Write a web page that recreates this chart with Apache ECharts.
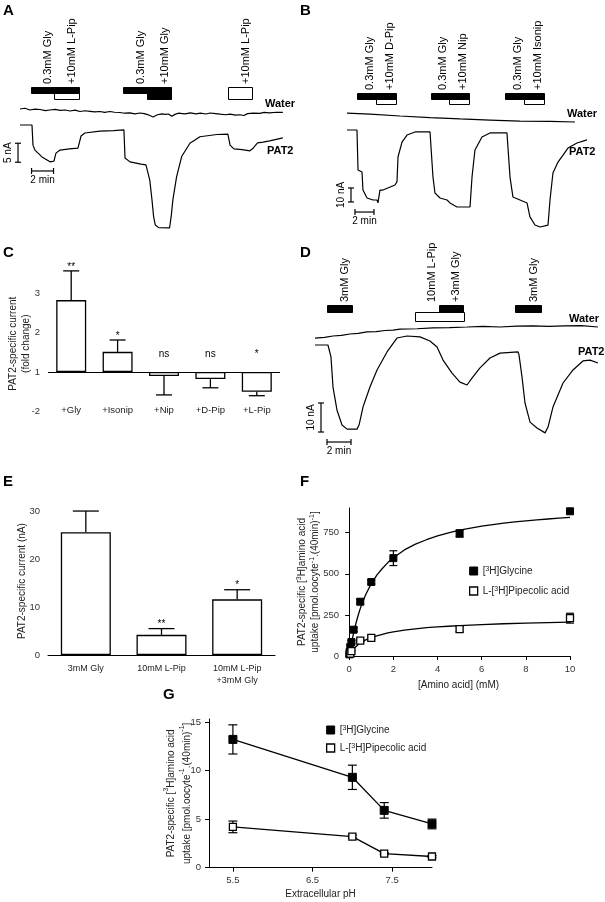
<!DOCTYPE html>
<html><head><meta charset="utf-8">
<script src="https://cdn.jsdelivr.net/npm/echarts@6/dist/echarts.min.js"></script>
<style>html,body{margin:0;padding:0;background:#fff}#c{width:605px;height:902px}</style>
</head><body><div id="c"></div><script>
const FONT = "'Liberation Sans', Arial, Helvetica, sans-serif";

// ---------- Panel A (time in min, current in nA) ----------
const waterA = [[0,4.21],[0.45,4.4],[0.91,3.95],[1.35,4.2],[1.82,4.08],[2.3,3.8],[2.73,3.95],[3.2,4.1],[3.64,3.85],[4.1,3.95],[4.55,3.68],[5.0,3.9],[5.45,3.55],[5.9,3.75],[6.36,3.6],[6.8,3.45],[7.27,3.55],[7.7,3.3],[8.18,3.55],[8.6,3.35],[9.09,3.29],[9.5,3.1],[10,3.2],[10.45,2.95],[10.9,3.16],[11.3,3.0],[11.6,2.75],[12.1,2.1],[12.5,2.7],[12.9,2.95],[13.2,2.8],[13.5,2.9],[13.8,2.3],[14.1,2.8],[14.4,3.1],[15.0,2.95],[15.5,3.2],[16.0,2.95],[16.4,3.1],[16.9,2.9],[17.3,3.16],[17.8,3.0],[18.2,2.85],[18.7,2.7],[19.1,2.85],[19.6,2.6],[20,2.7],[20.35,2.5],[20.7,3.0],[21.2,3.1],[21.8,3.05],[22.2,3.3],[22.7,3.2],[23.3,3.35],[23.9,3.3]];
const pat2A = [[0,0],[1.09,0],[1.18,-5.3],[1.36,-6.6],[2.0,-8.4],[2.73,-9.7],[3.09,-9.5],[3.27,-7.4],[3.64,-6.6],[4.5,-6.3],[5.27,-6.1],[5.55,-2.9],[5.9,-2.1],[7.27,-1.6],[8.5,-1.5],[9.45,-1.3],[9.55,-8.7],[10,-9.7],[11.0,-10.3],[11.45,-10.5],[11.8,-14.5],[12.0,-19.7],[12.15,-24.1],[12.3,-26.3],[12.6,-27.0],[13.6,-27.1],[13.75,-24],[13.9,-19.7],[14.24,-13.6],[14.7,-8.3],[15.45,-4.8],[16.36,-3.1],[17.9,-2.5],[18.9,-2.4],[19.1,-5.3],[19.45,-6.3],[20.2,-6.5],[20.9,-6.8],[21.2,-6.1],[21.6,-4.7],[22.1,-4.5],[22.7,-4.2],[23.3,-3.8],[23.9,-3.4]];
const stimA = [
  [1.0, 5.36, 0, 1, '0.3mM Gly'],
  [3.09, 5.36, 1, 0, '+10mM L-Pip'],
  [9.36, 13.73, 0, 1, '0.3mM Gly'],
  [11.55, 13.73, 1, 1, '+10mM Gly'],
  [18.9, 21.1, 2, 0, '+10mM L-Pip']
];

// ---------- Panel B ----------
const waterB = [[0,12.1],[2.42,11.4],[5.58,10],[8.74,8.9],[11.9,7.9],[15.05,7.1],[18.2,6.4],[21.4,6.1],[24,5.7]];
const pat2B = [[0,0],[1.05,0],[1.16,-28.6],[1.58,-30],[1.68,-42.9],[2.11,-48.6],[2.74,-50],[3.16,-50],[3.26,-52.1],[3.47,-42.9],[3.79,-42.9],[5.05,-39.3],[5.26,-37.1],[5.37,-19.3],[5.79,-8.6],[6.32,-3.6],[7.16,-1.4],[8.74,-1.4],[9.05,-33.6],[9.26,-45],[9.79,-48.6],[10.53,-50],[10.84,-52.1],[11.58,-55],[12.95,-55],[13.16,-33.6],[13.47,-14.3],[14.21,-5],[15.05,-2.1],[16.84,-2.1],[17.16,-33.6],[17.47,-47.9],[18.21,-50],[18.95,-52.1],[19.26,-62.1],[19.79,-67.9],[20.32,-69.3],[21.16,-67.9],[21.37,-50],[21.68,-30.7],[22.21,-22.9],[22.74,-17.9],[23.26,-12.9],[24.21,-9.3],[25.26,-7.1]];
const stimB = [
  [1.05, 5.16, 0, 1, '0.3mM Gly'],
  [3.05, 5.16, 1, 0, '+10mM D-Pip'],
  [8.84, 12.84, 0, 1, '0.3mM Gly'],
  [10.74, 12.84, 1, 0, '+10mM Nip'],
  [16.63, 20.74, 0, 1, '0.3mM Gly'],
  [18.63, 20.74, 1, 0, '+10mM Isonip']
];

// ---------- Panel C ----------
const catC = ['+Gly', '+Isonip', '+Nip', '+D-Pip', '+L-Pip'];
const foldC = [2.82, 1.51, -1.1, -1.18, -1.5];
const errC = [0.74, 0.3, 0.48, 0.22, 0.1];
const sigC = ['**', '*', 'ns', 'ns', '*'];
const ticksC = [-2, 1, 2, 3];

// ---------- Panel D ----------
const waterD = [[0,2.4],[0.8,2.6],[1.5,3.1],[2.2,3.3],[2.92,3.8],[3.6,4.0],[4.33,4.5],[5.1,4.6],[5.83,5.0],[6.5,5.1],[7.08,5.5],[8.5,5.6],[9.83,5.9],[11.2,6.0],[12.67,6.2],[14.0,6.4],[15.42,6.2],[16.8,6.5],[18.17,6.6],[19.5,6.4],[20.8,6.6],[22.2,6.7],[23.58,6.2]];
const pat2D = [[0,0],[1.08,0],[1.33,-4.1],[1.5,-14.5],[1.83,-22.4],[2.25,-27.6],[2.67,-29],[3.5,-29],[3.67,-27.6],[4,-21.4],[4.58,-14.5],[5.17,-8.6],[6,-2.4],[6.83,2.4],[7.67,3.1],[8.75,2.8],[9.58,1.4],[10.17,-0.7],[10.67,-5.2],[11.42,-9.7],[12.08,-12.8],[12.67,-13.8],[13.08,-11.4],[13.75,-7.9],[14.58,-4.5],[15.42,-2.8],[16.92,-2.4],[17,-3.4],[17.25,-11],[17.5,-20],[17.92,-26.6],[18.5,-28.6],[19.17,-30.3],[19.42,-28.3],[19.83,-21.4],[20.67,-13.1],[21.5,-8.6],[22.33,-5.5],[22.92,-5.2],[23.58,-6.2]];
const stimD = [
  [1.0, 3.08, 0, 1, '3mM Gly'],
  [8.33, 12.42, 1, 0, '10mM L-Pip'],
  [10.33, 12.33, 0, 1, '+3mM Gly'],
  [16.67, 18.83, 0, 1, '3mM Gly']
];

// ---------- Panel E ----------
const catE = ['3mM Gly', '10mM L-Pip', '10mM L-Pip\n+3mM Gly'];
const valE = [25.6, 4.2, 11.6];
const errE = [4.4, 1.3, 2.0];
const sigE = ['', '**', '*'];

// ---------- Panel F: [mM, uptake, sem] ----------
const glyF = [[0.01,10,5],[0.02,25,8],[0.05,55,10],[0.1,85,10],[0.2,160,12],[0.5,330,15],[1,450,12],[2,595,45],[5,745,22],[10,880,10]];
const pipF = [[0.05,15,5],[0.1,30,5],[0.5,93,8],[1,110,8],[5,163,15],[10,230,30]];
const glyFit = [[0,0],[0.05,40],[0.1,78],[0.2,140],[0.3,196],[0.4,245],[0.5,288],[0.6,325],[0.75,374],[1,440],[1.25,492],[1.5,532],[1.75,568],[2,598],[2.5,645],[3,680],[3.5,707],[4,730],[4.5,749],[5,765],[5.5,778],[6,790],[6.5,799],[7,808],[7.5,815],[8,822],[8.5,828],[9,833],[9.5,838],[10,843]];
const pipFit = [[0,0],[0.1,22],[0.25,50],[0.5,80],[0.75,98],[1,112],[1.25,123],[1.5,132],[1.75,140],[2,147],[2.5,157],[3,165],[3.5,172],[4,177],[4.5,181],[5,185],[6,191],[7,196],[8,200],[9,203],[10,206]];

// ---------- Panel G: [pH, uptake, sem] ----------
const glyG = [[5.5,13.2,1.5],[7.0,9.3,1.25],[7.4,5.9,0.8],[8.0,4.5,0.5]];
const pipG = [[5.5,4.2,0.6],[7.0,3.2,0.15],[7.4,1.45,0.1],[8.0,1.15,0.1]];

const GLY = '[3H]Glycine', PIP = 'L-[3H]Pipecolic acid';

// ---------- helpers ----------
function line(x1, y1, x2, y2, w) {
  return {type:'line', shape:{x1, y1, x2, y2}, style:{stroke:'#000', lineWidth:w || 1.2}};
}
function stimSeries(idx, stim, rowH) {
  return {
    type:'custom', xAxisIndex:idx, yAxisIndex:idx, silent:true, z:5,
    data: stim.map(s => [s[0], s[1]]), encode:{x:[0,1]},
    renderItem: (params, api) => {
      const i = params.dataIndex, s = stim[i], cs = params.coordSys;
      const x0 = api.coord([s[0], 0])[0], x1 = api.coord([s[1], 0])[0];
      let y = cs.y, h = rowH[0];
      if (s[2] === 1) { y = cs.y + rowH[0]; h = rowH[1]; }
      if (s[2] === 2) { h = rowH[0] + rowH[1]; }
      const nx = stim[i + 1];
      const anchorT = (nx && nx[0] > s[0] && nx[0] < s[1]) ? nx[0] : s[1];
      const ax = api.coord([anchorT, 0])[0] - 1;
      return {type:'group', children:[
        {type:'rect', shape:{x:Math.round(x0)+0.5, y:Math.round(y)+0.5, width:Math.round(x1-x0), height:h},
         style:{fill: s[3] ? '#000' : '#fff', stroke:'#000', lineWidth:1}},
        {type:'text', x:ax, y:cs.y - 3, rotation:Math.PI/2,
         style:{text:s[4], fill:'#000', fontSize:11, fontFamily:FONT, align:'left', verticalAlign:'bottom'}}
      ]};
    }
  };
}
function scaleSeries(idx, sc) {
  return {
    type:'custom', xAxisIndex:idx, yAxisIndex:idx, silent:true,
    data:[[sc.tV, sc.iLo]],
    renderItem: (params, api) => {
      const a = api.coord([sc.tV, sc.iLo]), b = api.coord([sc.tV, sc.iHi]);
      const c = api.coord([sc.tLo, sc.iH]), d = api.coord([sc.tHi, sc.iH]);
      return {type:'group', children:[
        line(a[0], a[1], b[0], b[1]), line(a[0]-3, a[1], a[0]+3, a[1]), line(b[0]-3, b[1], b[0]+3, b[1]),
        line(c[0], c[1], d[0], d[1]), line(c[0], c[1]-3, c[0], c[1]+3), line(d[0], d[1]-3, d[0], d[1]+3),
        {type:'text', x:a[0]-5, y:(a[1]+b[1])/2, rotation:Math.PI/2,
         style:{text:sc.vLabel, fill:'#000', fontSize:10, fontFamily:FONT, align:'center', verticalAlign:'bottom'}},
        {type:'text', x:(c[0]+d[0])/2, y:c[1]+4,
         style:{text:sc.hLabel, fill:'#000', fontSize:10, fontFamily:FONT, align:'center', verticalAlign:'top'}}
      ]};
    }
  };
}
function traceLine(idx, data) {
  return {type:'line', xAxisIndex:idx, yAxisIndex:idx, data, symbol:'none', silent:true,
    lineStyle:{color:'#000', width:1.2}, animation:false};
}
function errCat(idx, data, sig, cap, negSig) {
  return {
    type:'custom', xAxisIndex:idx, yAxisIndex:idx, silent:true, z:4,
    data, encode:{x:0, y:[1,2]},
    renderItem: (params, api) => {
      const i = params.dataIndex, base = api.value(1), tip = api.value(2);
      const pb = api.coord([i, base]), pt = api.coord([i, tip]), p0 = api.coord([i, 0]);
      const ch = [line(pb[0], pb[1], pt[0], pt[1], 1.3), line(pt[0]-cap/2, pt[1], pt[0]+cap/2, pt[1], 1.3)];
      if (sig[i]) {
        const up = tip >= base;
        const ty = up ? pt[1] + 1 : p0[1] - negSig;
        ch.push({type:'text', x:pt[0], y:ty,
          style:{text:sig[i], fill:'#000', fontSize:10, fontFamily:FONT, align:'center', verticalAlign:'bottom'}});
      }
      return {type:'group', children:ch};
    }
  };
}
function errXY(idx, data, cap) {
  return {
    type:'custom', xAxisIndex:idx, yAxisIndex:idx, silent:true, z:2,
    data: data.map(d => [d[0], d[1]-d[2], d[1]+d[2]]), encode:{x:0, y:[1,2]},
    renderItem: (params, api) => {
      const a = api.coord([api.value(0), api.value(1)]), b = api.coord([api.value(0), api.value(2)]);
      return {type:'group', children:[line(a[0], a[1], b[0], b[1], 1.2),
        line(a[0]-cap/2, a[1], a[0]+cap/2, a[1], 1.2), line(b[0]-cap/2, b[1], b[0]+cap/2, b[1], 1.2)]};
    }
  };
}
const fillSq = {color:'#000', borderColor:'#000', borderWidth:1, opacity:1};
const openSq = {color:'#fff', borderColor:'#000', borderWidth:1.3, opacity:1};

const axLine = {lineStyle:{color:'#000', width:1}};
const axTick = (cv) => ({length:4, lineStyle:{color:'#000', width:1}, customValues:cv});
const axLab = (cv, extra) => Object.assign({color:'#333', fontSize:9.5, fontFamily:FONT, customValues:cv}, extra || {});
const nameStyle = (lh) => ({color:'#222', fontSize:10, fontFamily:FONT, lineHeight:lh,
  rich:{s:{fontSize:7, fontFamily:FONT, color:'#222', verticalAlign:'top', lineHeight:lh}}});
const hidden = (i, min, max) => ({type:'value', gridIndex:i, min, max, show:false});

const toPos = f => f >= 1 ? f - 1 : f + 1;
const posC = foldC.map(toPos);
const errDataC = posC.map((p, i) => [i, p, p >= 0 ? p + errC[i] : p - errC[i]]);
const errDataE = valE.map((v, i) => [i, v, v + errE[i]]);
const tickPosC = ticksC.map(toPos);

const uptakeName = 'PAT2-specific [{s|3}H]amino acid\nuptake [pmol.oocyte{s|-1}.(40min){s|-1}]';

const option = {
  animation:false,
  backgroundColor:'#fff',
  textStyle:{fontFamily:FONT},
  grid:[
    {left:20, top:87, width:270, height:145},
    {left:347, top:93, width:243, height:139},
    {left:48, top:268, width:232, height:151.4},
    {left:315, top:305, width:285, height:140},
    {left:48, top:507.2, width:227, height:147.8},
    {left:347, top:508, width:223, height:148},
    {left:209, top:719, width:223, height:148.7}
  ],
  xAxis:[
    hidden(0, 0, 24.55),
    hidden(1, 0, 25.58),
    {type:'category', gridIndex:2, data:catC, axisLine:{show:false, onZero:false}, axisTick:{show:false},
     axisLabel:{color:'#222', fontSize:9.5, fontFamily:FONT, margin:-14, interval:0}},
    hidden(3, 0, 23.75),
    {type:'category', gridIndex:4, data:catE, axisLine:axLine, axisTick:{show:false},
     axisLabel:{color:'#222', fontSize:9, fontFamily:FONT, margin:8, lineHeight:12, interval:0}},
    {type:'value', gridIndex:5, min:-0.1, max:10, axisLine:axLine, axisTick:axTick([0,2,4,6,8,10]),
     axisLabel:axLab([0,2,4,6,8,10]), splitLine:{show:false},
     name:'[Amino acid] (mM)', nameLocation:'middle', nameGap:23, nameMoveOverlap:false, nameTextStyle:nameStyle(13)},
    {type:'value', gridIndex:6, min:5.2, max:8.0, axisLine:axLine, axisTick:axTick([5.5,6.5,7.5]),
     axisLabel:axLab([5.5,6.5,7.5], {formatter:v => v.toFixed(1)}), splitLine:{show:false},
     name:'Extracellular pH', nameLocation:'middle', nameGap:20, nameMoveOverlap:false, nameTextStyle:nameStyle(13)}
  ],
  yAxis:[
    hidden(0, -28.16, 10),
    hidden(1, -72.86, 26.43),
    {type:'value', gridIndex:2, min:-1.2, max:2.633, axisLine:axLine, axisTick:axTick(tickPosC),
     axisLabel:axLab(tickPosC, {formatter:v => String(v >= 0 ? v + 1 : v - 1)}), splitLine:{show:false},
     name:'PAT2-specific current\n(fold change)', nameLocation:'middle', nameRotate:90, nameGap:15,
     nameMoveOverlap:false, nameTextStyle:nameStyle(13)},
    hidden(3, -34.48, 13.79),
    {type:'value', gridIndex:4, min:0, max:30.8, axisLine:axLine, axisTick:axTick([0,10,20,30]),
     axisLabel:axLab([0,10,20,30]), splitLine:{show:false},
     name:'PAT2-specific current (nA)', nameLocation:'middle', nameRotate:90, nameGap:19,
     nameMoveOverlap:false, nameTextStyle:nameStyle(13)},
    {type:'value', gridIndex:5, min:0, max:900, axisLine:axLine, axisTick:axTick([0,250,500,750]),
     axisLabel:axLab([0,250,500,750]), splitLine:{show:false},
     name:uptakeName, nameLocation:'middle', nameRotate:90, nameGap:25, nameMoveOverlap:false, nameTextStyle:nameStyle(13)},
    {type:'value', gridIndex:6, min:0, max:15.3, axisLine:axLine, axisTick:axTick([0,5,10,15]),
     axisLabel:axLab([0,5,10,15]), splitLine:{show:false},
     name:uptakeName, nameLocation:'middle', nameRotate:90, nameGap:14, nameMoveOverlap:false, nameTextStyle:nameStyle(16)}
  ],
  legend:[
    {left:464, top:561, orient:'vertical', itemGap:10, itemWidth:8, itemHeight:8, selectedMode:false,
     textStyle:{fontSize:10, fontFamily:FONT, color:'#222', rich:{s:{fontSize:7, verticalAlign:'top', color:'#222'}}},
     formatter:n => n.replace('[3H]', '[{s|3}H]'),
     data:[{name:GLY, icon:'rect', itemStyle:fillSq}, {name:PIP, icon:'rect', itemStyle:openSq}]},
    {left:321, top:720, orient:'vertical', itemGap:8, itemWidth:8, itemHeight:8, selectedMode:false,
     textStyle:{fontSize:10, fontFamily:FONT, color:'#222', rich:{s:{fontSize:7, verticalAlign:'top', color:'#222'}}},
     formatter:n => n.replace('[3H]', '[{s|3}H]'),
     data:[{name:GLY, icon:'rect', itemStyle:fillSq}, {name:PIP, icon:'rect', itemStyle:openSq}]}
  ],
  series:[
    // A
    traceLine(0, waterA), traceLine(0, pat2A), stimSeries(0, stimA, [6, 6]),
    scaleSeries(0, {tV:-0.18, iLo:-9.8, iHi:-4.8, tLo:1.05, tHi:3.05, iH:-12.1, vLabel:'5 nA', hLabel:'2 min'}),
    // B
    traceLine(1, waterB), traceLine(1, pat2B), stimSeries(1, stimB, [6, 5]),
    scaleSeries(1, {tV:0.42, iLo:-51.4, iHi:-41.4, tLo:0.84, tHi:2.84, iH:-58.6, vLabel:'10 nA', hLabel:'2 min'}),
    // C
    {type:'bar', xAxisIndex:2, yAxisIndex:2, data:posC, barWidth:30, silent:true,
     itemStyle:{color:'#fff', borderColor:'#000', borderWidth:1.3},
     markLine:{silent:true, symbol:['none','none'], label:{show:false},
       lineStyle:{color:'#000', type:'solid', width:1}, data:[{yAxis:0}]}},
    errCat(2, errDataC, sigC, 16, 13),
    // D
    traceLine(3, waterD), traceLine(3, pat2D), stimSeries(3, stimD, [7, 9]),
    scaleSeries(3, {tV:0.5, iLo:-30, iHi:-20, tLo:1.0, tHi:3.0, iH:-33.45, vLabel:'10 nA', hLabel:'2 min'}),
    // E
    {type:'bar', xAxisIndex:4, yAxisIndex:4, data:valE, barWidth:50, silent:true,
     itemStyle:{color:'#fff', borderColor:'#000', borderWidth:1.3}},
    errCat(4, errDataE, sigE, 26, 13),
    // F
    {type:'line', xAxisIndex:5, yAxisIndex:5, data:glyFit, symbol:'none', smooth:false,
     silent:true, lineStyle:{color:'#000', width:1.3}, z:1},
    {type:'line', xAxisIndex:5, yAxisIndex:5, data:pipFit, symbol:'none', smooth:false,
     silent:true, lineStyle:{color:'#000', width:1.3}, z:1},
    errXY(5, glyF, 8), errXY(5, pipF, 8),
    {type:'scatter', name:GLY, xAxisIndex:5, yAxisIndex:5, data:glyF.map(d => [d[0], d[1]]),
     symbol:'rect', symbolSize:7, itemStyle:fillSq, z:3, silent:true},
    {type:'scatter', name:PIP, xAxisIndex:5, yAxisIndex:5, data:pipF.map(d => [d[0], d[1]]),
     symbol:'rect', symbolSize:7, itemStyle:openSq, z:3, silent:true},
    // G
    errXY(6, glyG, 9), errXY(6, pipG, 9),
    {type:'line', name:GLY, xAxisIndex:6, yAxisIndex:6, data:glyG.map(d => [d[0], d[1]]),
     symbol:'rect', symbolSize:8, itemStyle:fillSq, lineStyle:{color:'#000', width:1.3}, z:3, silent:true},
    {type:'line', name:PIP, xAxisIndex:6, yAxisIndex:6, data:pipG.map(d => [d[0], d[1]]),
     symbol:'rect', symbolSize:7, itemStyle:openSq, lineStyle:{color:'#000', width:1.3}, z:3, silent:true}
  ],
  graphic:[
    ...[['A',3,3.5],['B',300,3.5],['C',3,245.5],['D',300,245.5],['E',3,474.5],['F',300,474.5],['G',163,687.5]].map(l => ({
      type:'text', left:l[1], top:l[2], silent:true,
      style:{text:l[0], fontSize:15, fontWeight:'bold', fontFamily:FONT, fill:'#000'}})),
    ...[['Water',265,98],['PAT2',267,145],['Water',567,108],['PAT2',569,146],['Water',569,313],['PAT2',578,346]].map(l => ({
      type:'text', left:l[1], top:l[2], silent:true,
      style:{text:l[0], fontSize:11, fontWeight:'bold', fontFamily:FONT, fill:'#000'}}))
  ]
};
const chart = echarts.init(document.getElementById('c'), null, {renderer:'canvas', width:605, height:902});
chart.setOption(option);
</script></body></html>
